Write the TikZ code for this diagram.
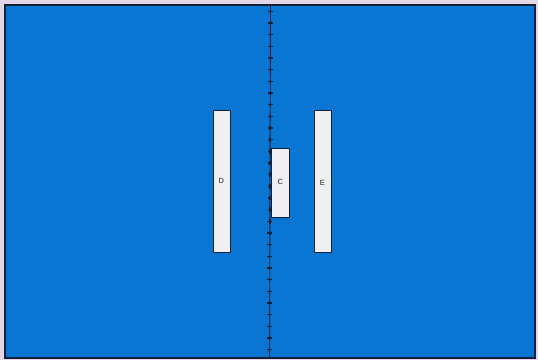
\documentclass[tikz,border=0pt]{standalone}
\usepackage{fontspec}
\setmainfont{Liberation Sans}
\definecolor{bgpink}{RGB}{226,214,232}
\definecolor{panelblue}{RGB}{10,118,212}
\definecolor{edgenavy}{RGB}{20,32,56}
\definecolor{boxwhite}{RGB}{240,240,242}
\tikzset{
  panel/.style={fill=panelblue, draw=edgenavy, line width=1.6pt},
  slab/.style={draw=edgenavy, fill=boxwhite, line width=0.7pt, inner sep=0pt, minimum width=#1},
  lbl/.style={font=\fontsize{7.5}{8}\selectfont, text=black!85},
  tick/.style={edgenavy, line width=1.3pt}
}
\begin{document}
\begin{tikzpicture}[x=1pt,y=-1pt]
\useasboundingbox (0,0) rectangle (538,360);
\fill[bgpink] (0,0) rectangle (538,360);
\draw[panel] (5,5) rectangle (535,358);
% boxes
\node[slab=17pt, minimum height=142pt, anchor=north west] (D) at (212.5,110) {};
\node[slab=17pt, minimum height=142pt, anchor=north west] (E) at (313.5,110) {};
\node[slab=18pt, minimum height=69pt, anchor=north west] (C) at (271,148) {};
% axis line
\coordinate (top) at (270.5,5);
\coordinate (bot) at (269.5,358);
\draw[edgenavy, line width=0.9pt] (top) -- (bot);
\foreach \k in {0,...,29} {
  \pgfmathsetmacro{\yy}{11.3+11.67*\k}
  \pgfmathsetmacro{\xx}{270.5-\yy/358}
  \fill[edgenavy] (\xx,\yy) circle (1.3pt);
  \draw[tick] (\xx-2.4,\yy) -- (\xx+2.4,\yy);
  \draw[tick] (\xx,\yy-2.2) -- (\xx,\yy+2.2);
}
\node[lbl] (Dl) at (D.center) {D};
\node[lbl] (El) at ([yshift=-2pt]E.center) {E};
\node[lbl] (Cl) at ([yshift=1pt]C.center) {C};
\end{tikzpicture}
\end{document}
